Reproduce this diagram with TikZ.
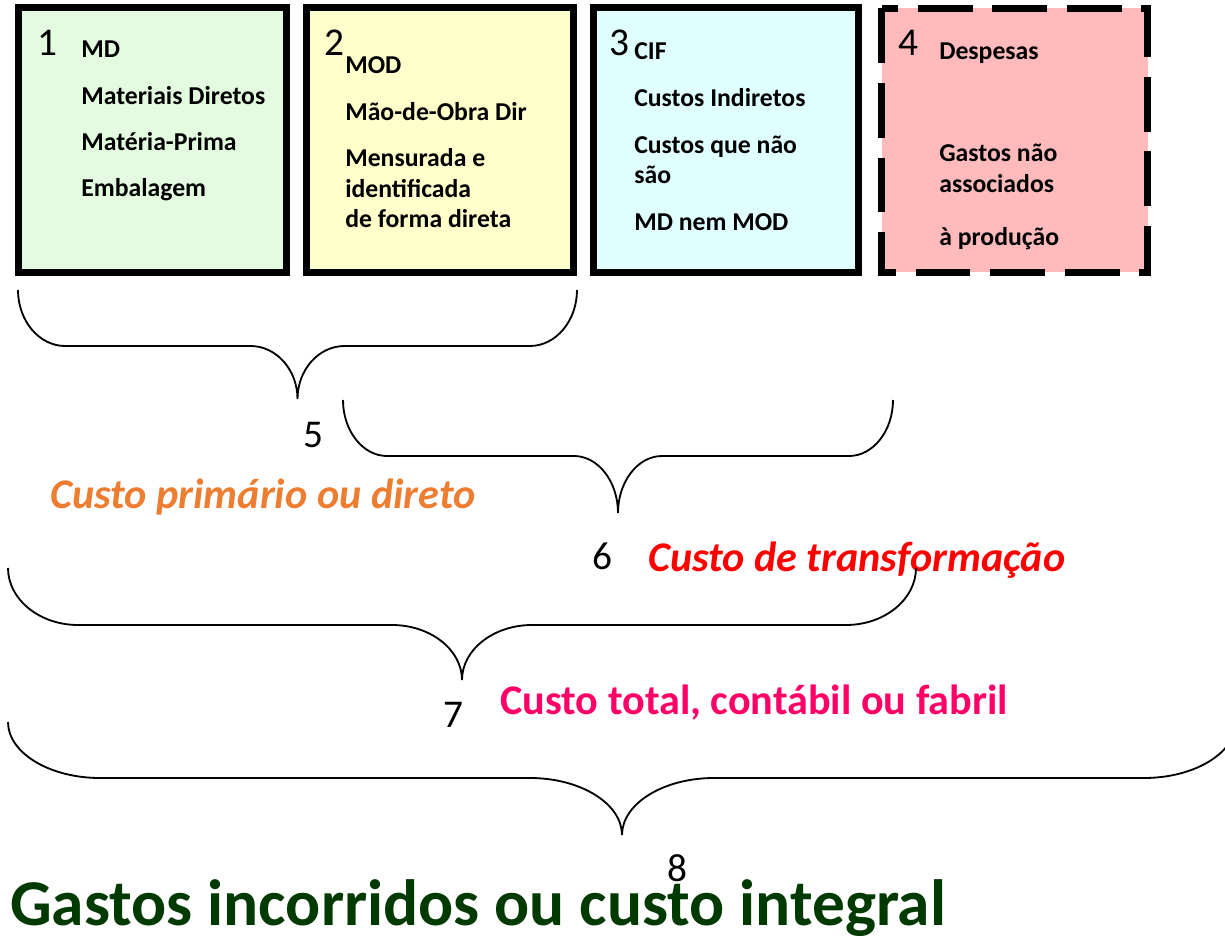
\documentclass[tikz,border=0pt]{standalone}
\usepackage{fontspec}
\setmainfont{Carlito}
\usepackage{tikz}

\definecolor{verdeMD}{HTML}{E3FCE0}
\definecolor{amareloMOD}{HTML}{FFFFCC}
\definecolor{cianoCIF}{HTML}{E0FFFF}
\definecolor{rosaDesp}{HTML}{FFBBBB}
\definecolor{laranja}{HTML}{ED7D31}
\definecolor{vermelho}{HTML}{FF0000}
\definecolor{rosaforte}{HTML}{FF0066}
\definecolor{verdeescuro}{HTML}{003A00}

%% chave: x1, x2, y topo, y meio, y ponta, raio
\newcommand{\chave}[6]{%
  \draw[chaveline] (#1,#3)
    .. controls (#1,{#3+0.55*(#4-#3)}) and ({#1+0.45*#6},#4) .. ({#1+#6},#4)
    -- ({(#1+#2)/2-#6},#4)
    .. controls ({(#1+#2)/2-0.45*#6},#4) and ({(#1+#2)/2},{#4+0.45*(#5-#4)}) .. ({(#1+#2)/2},#5)
    .. controls ({(#1+#2)/2},{#4+0.45*(#5-#4)}) and ({(#1+#2)/2+0.45*#6},#4) .. ({(#1+#2)/2+#6},#4)
    -- ({#2-#6},#4)
    .. controls ({#2-0.45*#6},#4) and (#2,{#3+0.55*(#4-#3)}) .. (#2,#3);}

\begin{document}
\begin{tikzpicture}%
        [x={(0.025cm, 0cm)},
        y={(0cm, -0.025cm)},
        caixa/.style={line width=5pt, draw=black},
        despesa/.style={line width=5pt, draw=black, dash pattern=on 39pt off 14pt},
        chaveline/.style={line width=1.3pt, color=black},
        item/.style={anchor=base west, inner sep=0pt, font=\fontsize{18.3}{22}\selectfont\bfseries},
        numero/.style={anchor=base west, inner sep=0pt, font=\fontsize{28}{32}\selectfont},
        titulo/.style={anchor=base west, inner sep=0pt, font=\fontsize{30}{34}\selectfont\bfseries}]

    \useasboundingbox (0,0) rectangle (1225,939);

    %% Drawing the boxes
    \draw[caixa, fill=verdeMD] (18.5,7.5) rectangle (286.5,272.5);
    \draw[caixa, fill=amareloMOD] (306.5,7.5) rectangle (573.5,272.5);
    \draw[caixa, fill=cianoCIF] (593.5,7.5) rectangle (858.5,272.5);
    \draw[despesa, fill=rosaDesp] (881.5,8.5) rectangle (1147.5,272.5);

    %%
    %% Box texts
    %%
    \node[numero] (n1) at (37,56) {1};
    \node[item] (md) at (81,58) {MD};
    \node[item] (md1) at (81,105) {Materiais Diretos};
    \node[item] (md2) at (81,151) {Matéria-Prima};
    \node[item] (md3) at (81,197) {Embalagem};

    \node[numero] (n2) at (324,56) {2};
    \node[item] (mod) at (345,74) {MOD};
    \node[item] (mod1) at (345,121) {Mão-de-Obra Dir};
    \node[item] (mod2) at (345,167) {Mensurada e};
    \node[item] (mod3) at (345,198) {identificada};
    \node[item] (mod4) at (345,228) {de forma direta};

    \node[numero] (n3) at (609,56) {3};
    \node[item] (cif) at (634,60) {CIF};
    \node[item] (cif1) at (634,107) {Custos Indiretos};
    \node[item] (cif2) at (634,154) {Custos que não};
    \node[item] (cif3) at (634,184) {são};
    \node[item] (cif4) at (634,231) {MD nem MOD};

    \node[numero] (n4) at (898,56) {4};
    \node[item] (desp) at (939,60) {Despesas};
    \node[item] (desp1) at (939,162) {Gastos não};
    \node[item] (desp2) at (939,193) {associados};
    \node[item] (desp3) at (939,245) {à produção};

    %%
    %% Groups
    %%
    \node[numero] (n5) at (303,447) {5};
    \node[titulo, text=laranja] (primario) at (50,508) {\itshape Custo primário ou direto};
    \node[numero] (n6) at (592,569) {6};
    \node[titulo, text=vermelho] (transf) at (648,571) {\itshape Custo de transformação};
    \node[numero] (n7) at (443,727) {7};
    \node[titulo, text=rosaforte] (total) at (500,714) {Custo total, contábil ou fabril};
    \node[numero] (n8) at (667,881) {8};
    \node[titulo, text=verdeescuro, font=\fontsize{46.5}{52}\selectfont\bfseries] (integral) at (10,925) {Gastos incorridos ou custo integral};

    %% Drawing the braces
    \chave{18}{577}{290}{346}{399}{47}
    \chave{343}{893}{400}{456}{513}{44}
    \chave{8}{916}{568}{625}{680}{70}
    \chave{8}{1236}{722}{778}{835}{92}
    %%
\end{tikzpicture}
\end{document}
